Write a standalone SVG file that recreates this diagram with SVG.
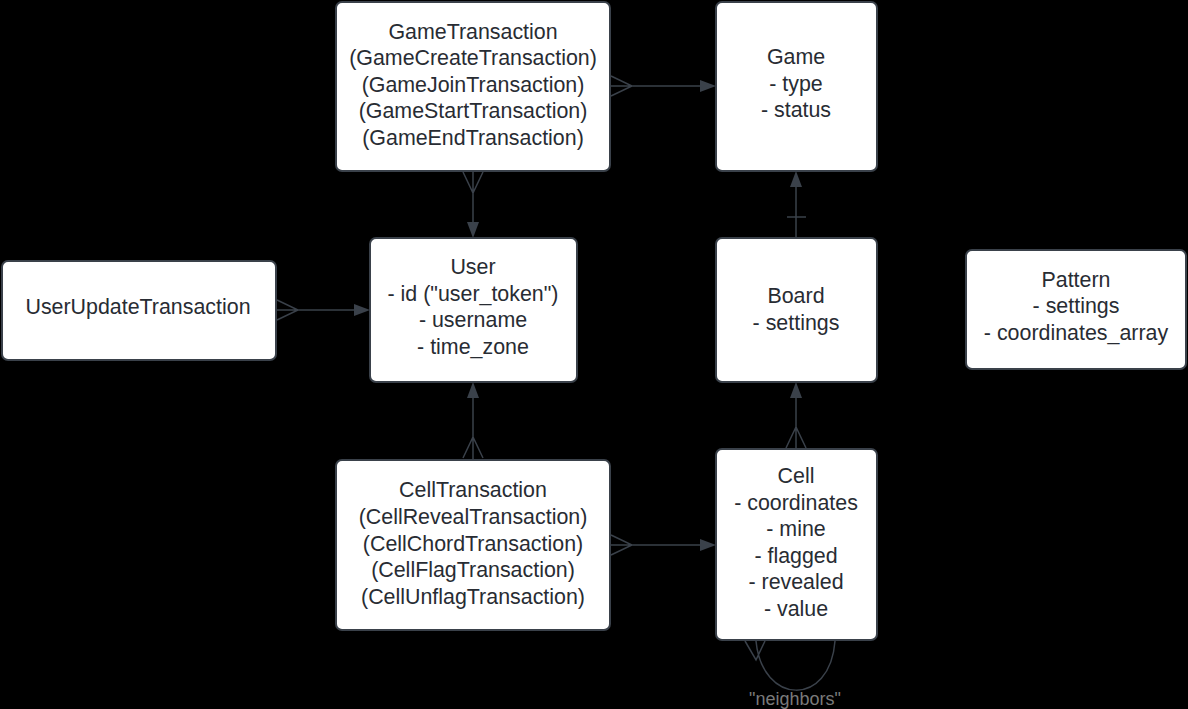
<svg xmlns="http://www.w3.org/2000/svg" width="1188" height="709" viewBox="0 0 1188 709">
<style>
.box{fill:#ffffff;stroke:#3a414a;stroke-width:2}
.t{font-family:"Liberation Sans",Arial,sans-serif;font-size:21.4px;fill:#282c33;text-anchor:middle}
.ln{stroke:#3a414a;stroke-width:1.5;fill:none}
.ah{fill:#3a414a}
.lbl{font-family:"Liberation Sans",Arial,sans-serif;font-size:18px;fill:#7a7a7a;text-anchor:middle}
</style>
<rect x="0" y="0" width="1188" height="709" fill="#000000"/>
<g id="connectors">
  <path class="ln" d="M610,86 H702 M611,76 L632,86 L611,96"/>
  <path class="ah" d="M716,86 L700,80 L700,92 Z"/>
  <path class="ln" d="M473,171 V224 M463,172 L473,193 L483,172"/>
  <path class="ah" d="M473,238 L467,222 L479,222 Z"/>
  <path class="ln" d="M276,310 H356 M277,300 L298,310 L277,320"/>
  <path class="ah" d="M370,310 L354,304 L354,316 Z"/>
  <path class="ln" d="M473,459 V396 M463,458 L473,437 L483,458"/>
  <path class="ah" d="M473,382 L467,398 L479,398 Z"/>
  <path class="ln" d="M610,545 H702 M611,535 L632,545 L611,555"/>
  <path class="ah" d="M716,545 L700,539 L700,551 Z"/>
  <path class="ln" d="M796,238 V185 M787,217 H806"/>
  <path class="ah" d="M796,171 L790,187 L802,187 Z"/>
  <path class="ln" d="M796,449 V396 M786,448 L796,427 L806,448"/>
  <path class="ah" d="M796,382 L790,398 L802,398 Z"/>
  <path class="ln" d="M756,641 C762,705 830,708 835,641 M745,641 L756,660 L765,641"/>
  <text class="lbl" x="795" y="705">"neighbors"</text>
</g>
<g id="GameTransaction">
  <rect class="box" x="336" y="2" width="274" height="169" rx="6"/>
  <text class="t" x="473" y="39">GameTransaction</text>
  <text class="t" x="473" y="65">(GameCreateTransaction)</text>
  <text class="t" x="473" y="92">(GameJoinTransaction)</text>
  <text class="t" x="473" y="118">(GameStartTransaction)</text>
  <text class="t" x="473" y="145">(GameEndTransaction)</text>
</g>
<g id="Game">
  <rect class="box" x="716" y="2" width="161" height="169" rx="6"/>
  <text class="t" x="796" y="64">Game</text>
  <text class="t" x="796" y="91">- type</text>
  <text class="t" x="796" y="117">- status</text>
</g>
<g id="User">
  <rect class="box" x="370" y="238" width="207" height="144" rx="6"/>
  <text class="t" x="473" y="274">User</text>
  <text class="t" x="473" y="301">- id ("user_token")</text>
  <text class="t" x="473" y="327">- username</text>
  <text class="t" x="473" y="354">- time_zone</text>
</g>
<g id="UserUpdateTransaction">
  <rect class="box" x="2" y="261" width="274" height="99" rx="6"/>
  <text class="t" x="138" y="314">UserUpdateTransaction</text>
</g>
<g id="Board">
  <rect class="box" x="716" y="238" width="161" height="144" rx="6"/>
  <text class="t" x="796" y="303">Board</text>
  <text class="t" x="796" y="330">- settings</text>
</g>
<g id="Pattern">
  <rect class="box" x="966" y="250" width="220" height="119" rx="6"/>
  <text class="t" x="1076" y="287">Pattern</text>
  <text class="t" x="1076" y="313">- settings</text>
  <text class="t" x="1076" y="340">- coordinates_array</text>
</g>
<g id="CellTransaction">
  <rect class="box" x="336" y="460" width="274" height="170" rx="6"/>
  <text class="t" x="473" y="497">CellTransaction</text>
  <text class="t" x="473" y="524">(CellRevealTransaction)</text>
  <text class="t" x="473" y="551">(CellChordTransaction)</text>
  <text class="t" x="473" y="577">(CellFlagTransaction)</text>
  <text class="t" x="473" y="604">(CellUnflagTransaction)</text>
</g>
<g id="Cell">
  <rect class="box" x="716" y="449" width="161" height="191" rx="6"/>
  <text class="t" x="796" y="483">Cell</text>
  <text class="t" x="796" y="510">- coordinates</text>
  <text class="t" x="796" y="536">- mine</text>
  <text class="t" x="796" y="563">- flagged</text>
  <text class="t" x="796" y="589">- revealed</text>
  <text class="t" x="796" y="616">- value</text>
</g>
</svg>
